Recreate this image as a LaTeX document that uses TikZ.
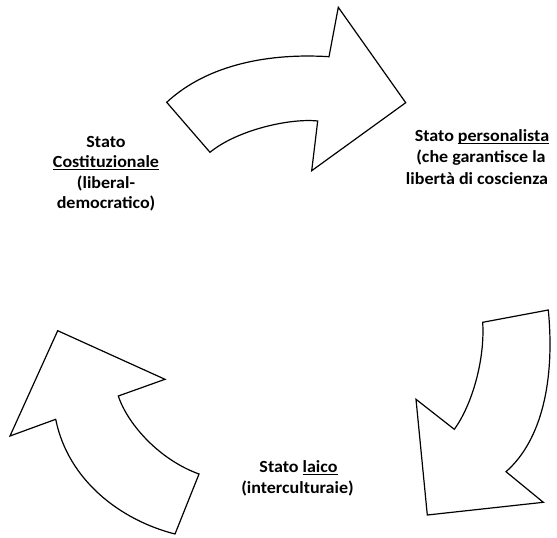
\documentclass[tikz,border=0pt]{standalone}
\usepackage{fontspec}
\setmainfont{Carlito}[FakeStretch=1.06]
\newcommand\myul[1]{\setbox0\hbox{#1}\rlap{\rule[-2.4pt]{\wd0}{0.9pt}}\box0}
\begin{document}
\begin{tikzpicture}[x=1pt,y=-1pt,
  arrowshape/.style={draw=black,line width=1.2pt,line join=miter,fill=white},
  lbl/.style={font=\fontsize{17}{20}\selectfont\bfseries,inner sep=0pt,anchor=base}]
\useasboundingbox (0,0) rectangle (557,538);
% top arrow
\draw[arrowshape] (166.7,102.3) .. controls (208,64) and (270,53) .. (329,56.7)
  -- (338.3,7.3) -- (405.7,102.7) -- (311.7,170.7) -- (317.7,121)
  .. controls (290,118) and (237,130) .. (210,152.3) -- cycle;
% bottom right arrow
\draw[arrowshape] (482.7,322.3) -- (548.3,310)
  .. controls (555,380) and (542,440) .. (506,471.7)
  -- (543.3,502.3) -- (427.3,515) -- (416,399.3) -- (454.3,429.3)
  .. controls (472,405) and (485,360) .. (482.7,322.3) -- cycle;
% bottom left arrow
\draw[arrowshape] (57.7,330.7) -- (165,379.3) -- (118.3,396)
  .. controls (128,425) and (160,460) .. (199,474)
  -- (175,534) .. controls (120,520) and (68,480) .. (55.7,419.3)
  -- (10,436) -- cycle;
% left text
\node[lbl] (c1) at (106,147) {Stato};
\node[lbl] (c2) at (106,167.5) {\myul{Costituzionale}};
\node[lbl] (c3) at (106,188) {(liberal-};
\node[lbl] (c4) at (106,208.5) {democratico)};
% right text
\node[lbl] (p1) at (482,141) {Stato \myul{personalista}};
\node[lbl] (p2) at (481,162.5) {(che garantisce la};
\node[lbl] (p3) at (477,184) {libertà di coscienza};
% bottom text
\node[lbl] (l1) at (298.5,472) {Stato \myul{laico}};
\node[lbl] (l2) at (297.5,493) {(interculturaie)};
\end{tikzpicture}
\end{document}
